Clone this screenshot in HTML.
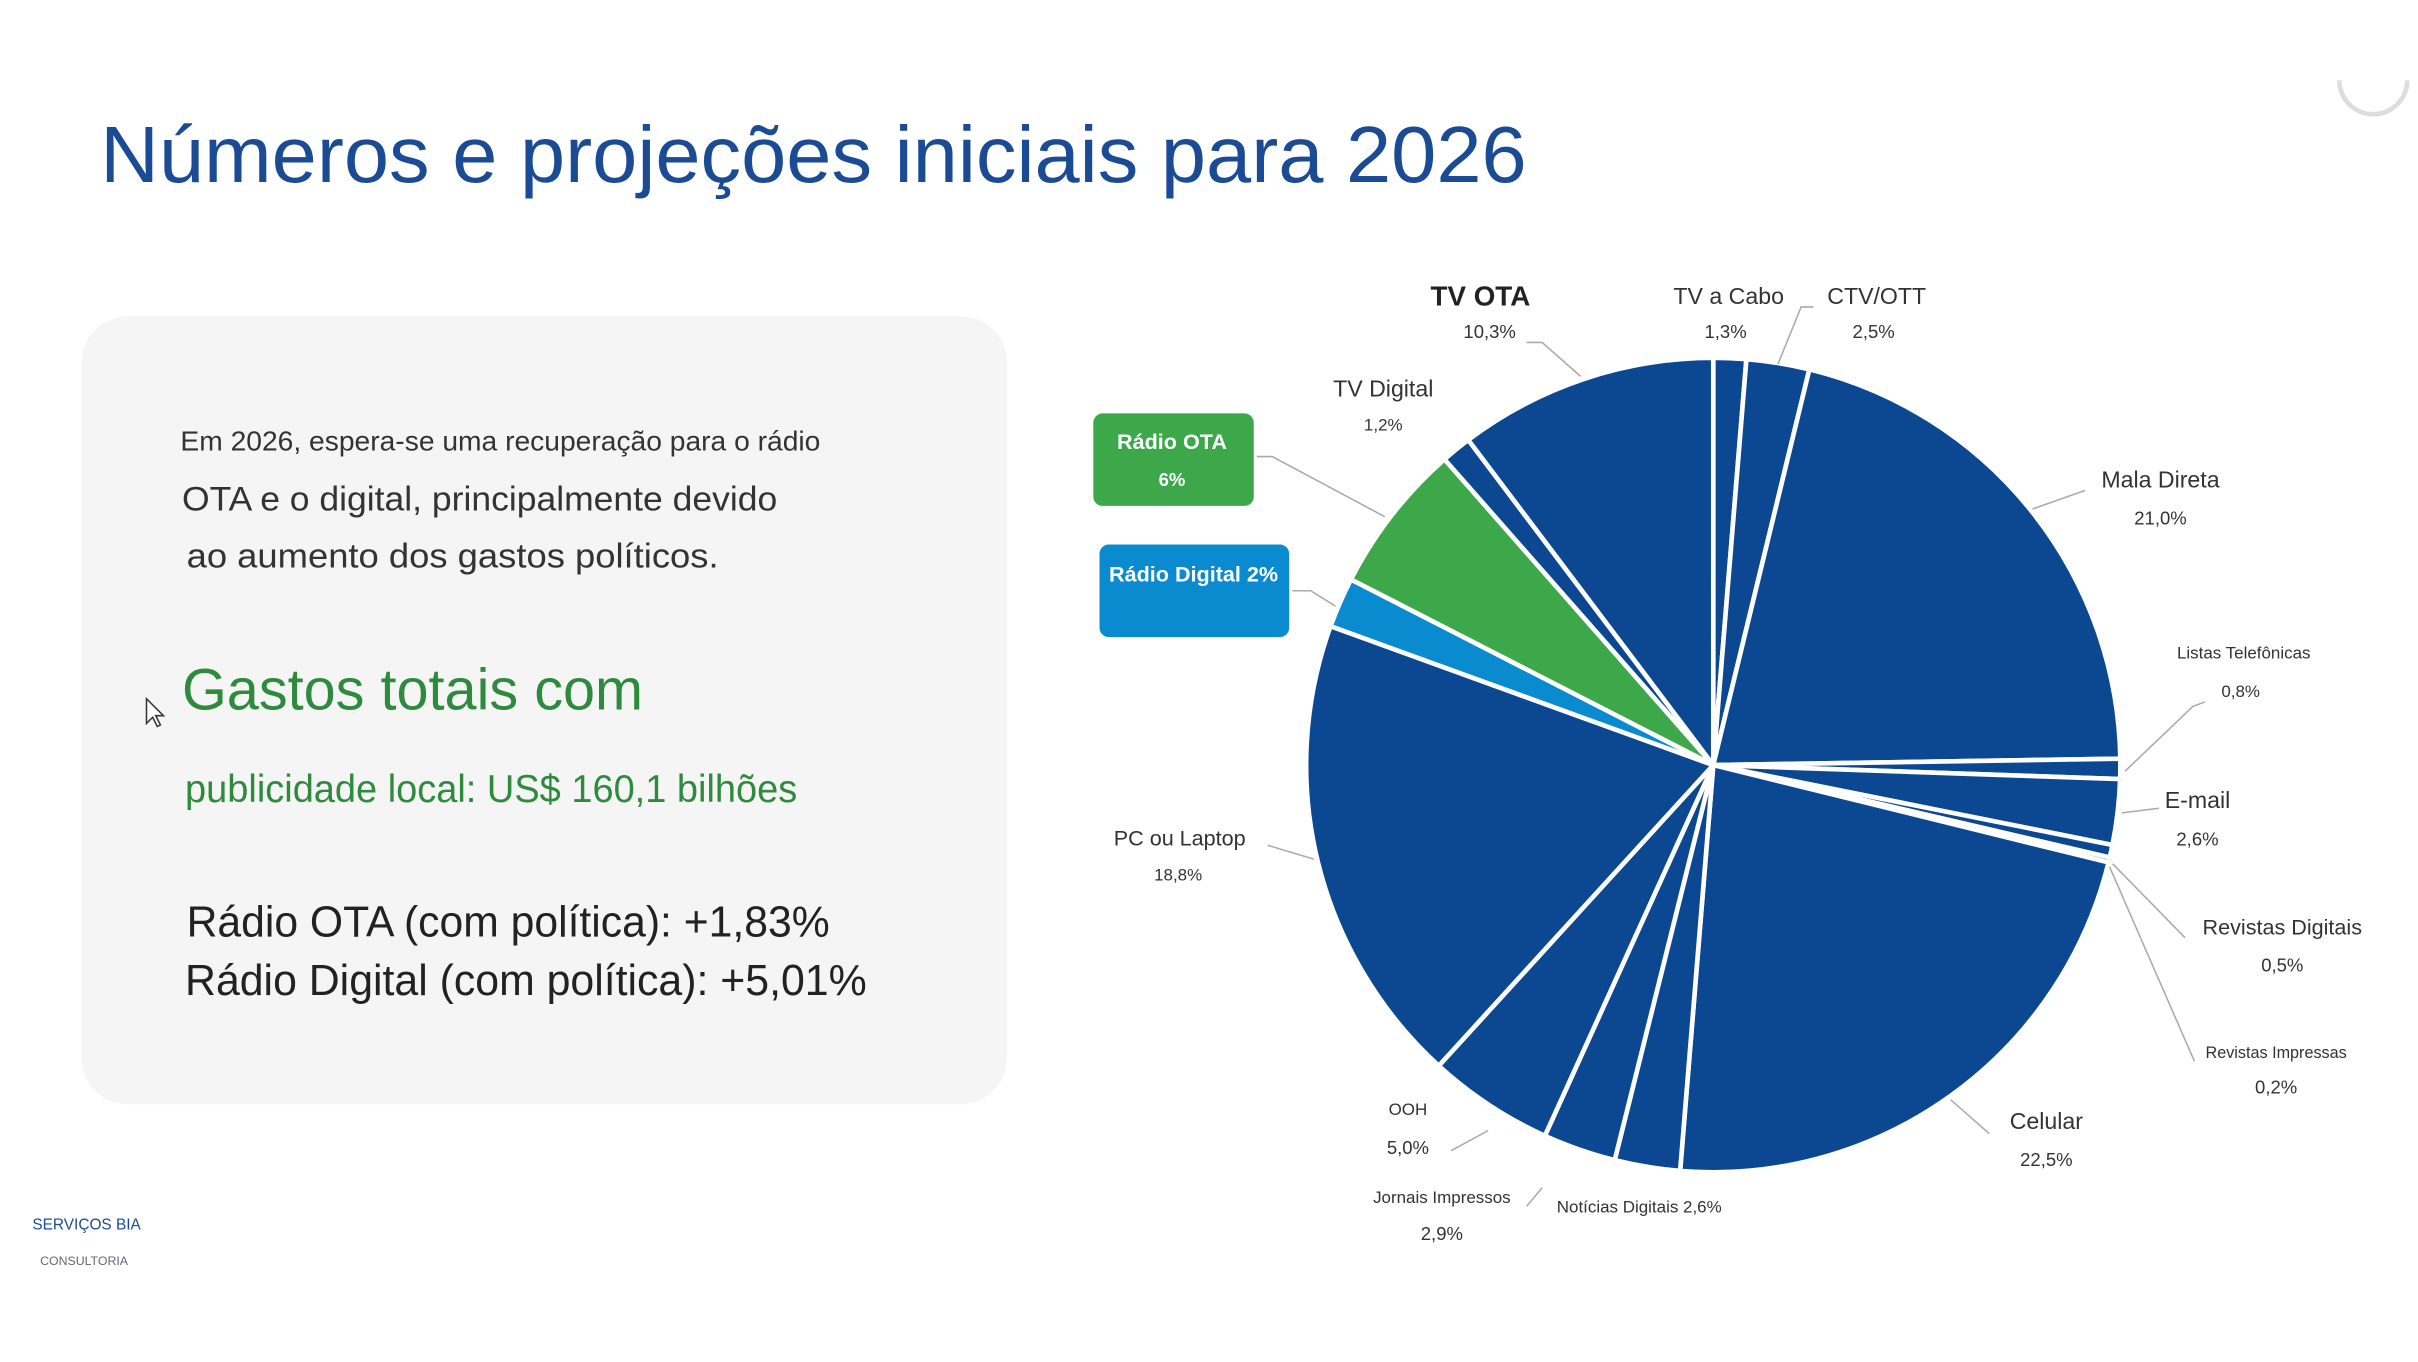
<!DOCTYPE html>
<html><head><meta charset="utf-8"><style>
html,body{margin:0;padding:0;background:#fff;width:2418px;height:1362px;overflow:hidden}
svg{display:block}
text{font-family:"Liberation Sans",sans-serif}
</style></head><body>
<svg id="s" width="2418" height="1362" viewBox="0 0 1568 883" preserveAspectRatio="none">
<text x="65" y="118" font-size="52" fill="#1a4b94" textLength="925" lengthAdjust="spacingAndGlyphs">Números e projeções iniciais para 2026</text>
<path d="M1517 52 a22 22 0 0 0 44 0" fill="none" stroke="#ddd" stroke-width="3"/>
<rect x="53" y="205" width="600" height="511" rx="30" fill="#f5f5f5"/>
<g fill="#333">
<text x="117" y="292" font-size="18" textLength="415" lengthAdjust="spacingAndGlyphs">Em 2026, espera-se uma recuperação para o rádio</text>
<text x="118" y="331" font-size="22" textLength="386" lengthAdjust="spacingAndGlyphs">OTA e o digital, principalmente devido</text>
<text x="121" y="368" font-size="22" textLength="345" lengthAdjust="spacingAndGlyphs">ao aumento dos gastos políticos.</text>
<text x="118" y="460" font-size="38" fill="#2e8b3e" textLength="299" lengthAdjust="spacingAndGlyphs">Gastos totais com</text>
<text x="120" y="520" font-size="25" fill="#2e8b3e" textLength="397" lengthAdjust="spacingAndGlyphs">publicidade local: US$ 160,1 bilhões</text>
<text x="121" y="607" font-size="28" fill="#222" textLength="417" lengthAdjust="spacingAndGlyphs">Rádio OTA (com política): +1,83%</text>
<text x="120" y="645" font-size="28" fill="#222" textLength="442" lengthAdjust="spacingAndGlyphs">Rádio Digital (com política): +5,01%</text>
</g>
<path d="M95 453 l0 16 l4 -4 l3 6 l2 -1 l-3 -6 l5 0 z" fill="#fff" stroke="#333" stroke-width="1"/>
<text x="21" y="797" font-size="10" fill="#1a4b94">SERVIÇOS BIA</text>
<text x="26" y="820" font-size="8" fill="#667">CONSULTORIA</text>
<g id="pie"></g>
<g id="leaders" fill="none" stroke="#aaa" stroke-width="1">
<polyline points="990,222 1000,222 1025,244"/>
<polyline points="1176,199 1168,199 1153,236"/>
<polyline points="815,296 825,296 898,335"/>
<polyline points="838,383 850,383 866,393"/>
<polyline points="1352,318 1318,330"/>
<polyline points="1430,455 1422,458 1378,500"/>
<polyline points="1400,524 1376,527"/>
<polyline points="1417,608 1370,560"/>
<polyline points="1423,688 1368,562"/>
<polyline points="1290,735 1265,713"/>
<polyline points="990,782 1000,770"/>
<polyline points="941,746 965,733"/>
<polyline points="822,548 852,557"/>
</g>
<rect x="709" y="268" width="104" height="60" rx="6" fill="#3ca84a"/>
<text x="760" y="291" font-size="14" font-weight="bold" fill="#fff" text-anchor="middle">Rádio OTA</text>
<text x="760" y="315" font-size="12" font-weight="bold" fill="#fff" text-anchor="middle">6%</text>
<rect x="713" y="353" width="123" height="60" rx="6" fill="#0a8bd0"/>
<text x="774" y="377" font-size="14" font-weight="bold" fill="#fff" text-anchor="middle">Rádio Digital 2%</text>
<g id="labels" fill="#333" text-anchor="middle">
<text x="960" y="198" font-size="18" font-weight="bold" fill="#222">TV OTA</text><text x="966" y="219" font-size="12">10,3%</text>
<text x="1121" y="197" font-size="15">TV a Cabo</text><text x="1119" y="219" font-size="12">1,3%</text>
<text x="1217" y="197" font-size="15">CTV/OTT</text><text x="1215" y="219" font-size="12">2,5%</text>
<text x="897" y="257" font-size="15">TV Digital</text><text x="897" y="279" font-size="11">1,2%</text>
<text x="1401" y="316" font-size="15">Mala Direta</text><text x="1401" y="340" font-size="12">21,0%</text>
<text x="1455" y="427" font-size="11">Listas Telefônicas</text><text x="1453" y="452" font-size="11">0,8%</text>
<text x="1425" y="524" font-size="15">E-mail</text><text x="1425" y="548" font-size="12">2,6%</text>
<text x="1480" y="606" font-size="14">Revistas Digitais</text><text x="1480" y="630" font-size="12">0,5%</text>
<text x="1476" y="686" font-size="10.5">Revistas Impressas</text><text x="1476" y="709" font-size="12">0,2%</text>
<text x="1327" y="732" font-size="15">Celular</text><text x="1327" y="756" font-size="12">22,5%</text>
<text x="1063" y="786" font-size="11">Notícias Digitais 2,6%</text>
<text x="935" y="780" font-size="11">Jornais Impressos</text><text x="935" y="804" font-size="12">2,9%</text>
<text x="913" y="723" font-size="11">OOH</text><text x="913" y="748" font-size="12">5,0%</text>
<text x="765" y="548" font-size="14">PC ou Laptop</text><text x="764" y="571" font-size="11">18,8%</text>
</g>
</svg>
<script>
const categories=["TV a Cabo","CTV/OTT","Mala Direta","Listas Telefônicas","E-mail","Revistas Digitais","Revistas Impressas","Celular","Notícias Digitais","Jornais Impressos","OOH","PC ou Laptop","Rádio Digital","Rádio OTA","TV Digital","TV OTA"];
const shares=[1.3,2.5,21.0,0.8,2.6,0.5,0.2,22.5,2.6,2.9,5.0,18.8,2,6,1.2,10.3];
const sliceColors=["#0c4892","#0c4892","#0c4892","#0c4892","#0c4892","#0c4892","#0c4892","#0c4892","#0c4892","#0c4892","#0c4892","#0c4892","#0a8bd0","#3ca84a","#0c4892","#0c4892"];
const cx=1111,cy=496,R=264;
const total=shares.reduce((a,b)=>a+b,0);
function angle(v){return v/total*2*Math.PI;}
function pt(a){return [cx+R*Math.sin(a),cy-R*Math.cos(a)];}
const g=document.getElementById('pie');
let acc=0;
shares.forEach((v,i)=>{
  const a0=angle(acc),a1=angle(acc+v);acc+=v;
  const p0=pt(a0),p1=pt(a1);
  const large=(a1-a0)>Math.PI?1:0;
  const p=document.createElementNS('http://www.w3.org/2000/svg','path');
  p.setAttribute('d',`M${cx},${cy} L${p0[0]},${p0[1]} A${R},${R} 0 ${large} 1 ${p1[0]},${p1[1]} Z`);
  p.setAttribute('fill',sliceColors[i]);
  p.setAttribute('stroke','#fff');
  p.setAttribute('stroke-width','3');
  p.setAttribute('stroke-linejoin','round');
  
  
  g.appendChild(p);
});
</script>
</body></html>
